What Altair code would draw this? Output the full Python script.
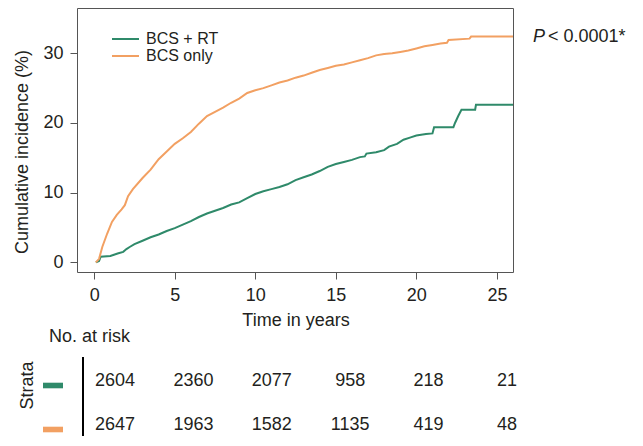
import altair as alt
import pandas as pd

# ---------------- data ----------------
series = ["BCS + RT", "BCS only"]
colors = ["#2f8a6a", "#f2a062"]

rt_time = [0.1, 0.3, 0.4, 1.0, 1.5, 1.8, 2.0, 2.2, 2.5, 3.0, 3.5, 4.0, 4.5, 5.0, 5.5,
           6.0, 6.5, 7.0, 7.5, 8.0, 8.5, 9.0, 9.5, 10.0, 10.5, 11.0, 11.5, 12.0, 12.5,
           13.0, 13.5, 14.0, 14.5, 15.0, 15.5, 16.0, 16.5, 16.8, 16.9, 17.5, 18.0, 18.3,
           18.8, 19.2, 19.6, 20.0, 20.6, 21.0, 21.1, 22.3, 22.4, 22.6, 22.8, 23.65, 23.7, 26.0]
rt_value = [0, 0.2, 0.8, 0.9, 1.3, 1.5, 1.9, 2.2, 2.6, 3.1, 3.6, 4.0, 4.5, 4.9, 5.4,
            5.9, 6.5, 7.0, 7.4, 7.8, 8.3, 8.6, 9.2, 9.8, 10.2, 10.5, 10.8, 11.2, 11.8,
            12.2, 12.6, 13.1, 13.7, 14.1, 14.4, 14.7, 15.1, 15.2, 15.6, 15.8, 16.1, 16.6,
            17.0, 17.6, 17.9, 18.2, 18.4, 18.5, 19.4, 19.4, 20.0, 21.0, 21.9, 21.9, 22.6, 22.6]

only_time = [0.1, 0.3, 0.5, 0.8, 1.1, 1.4, 1.7, 1.9, 2.1, 2.4, 3.0, 3.5, 4.0, 4.5, 5.0,
             5.5, 6.0, 6.5, 7.0, 7.5, 8.0, 8.5, 9.0, 9.5, 10.0, 10.5, 11.0, 11.5, 12.0,
             12.5, 13.0, 13.5, 14.0, 14.5, 15.0, 15.5, 16.0, 16.5, 17.0, 17.5, 18.0, 18.5,
             19.0, 19.5, 20.0, 20.5, 21.0, 21.5, 21.9, 22.0, 23.3, 23.4, 26.0]
only_value = [0, 0.5, 2.2, 4.1, 5.8, 6.8, 7.6, 8.2, 9.5, 10.5, 12.1, 13.3, 14.8, 15.9, 17.0,
              17.8, 18.7, 19.9, 21.0, 21.6, 22.2, 22.9, 23.5, 24.3, 24.7, 25.0, 25.4, 25.8, 26.1,
              26.5, 26.8, 27.2, 27.6, 27.9, 28.2, 28.4, 28.7, 29.0, 29.3, 29.7, 29.9, 30.0,
              30.2, 30.4, 30.7, 31.0, 31.2, 31.4, 31.5, 31.9, 32.1, 32.4, 32.4]

x_ticks = [0, 5, 10, 15, 20, 25]
y_ticks = [0, 10, 20, 30]

risk_times = [0, 5, 10, 15, 20, 25]
risk_rt = ["2604", "2360", "2077", "958", "218", "21"]
risk_only = ["2647", "1963", "1582", "1135", "419", "48"]

FONT = "Liberation Sans, Arial, Helvetica, sans-serif"
TXT = "#231f20"
GRAY = "#555555"

# ---------------- tables ----------------
curves = pd.concat([
    pd.DataFrame({"time": rt_time, "value": rt_value, "series": series[0]}),
    pd.DataFrame({"time": only_time, "value": only_value, "series": series[1]}),
])
curves["order"] = range(len(curves))

risk = pd.concat([
    pd.DataFrame({"time": risk_times, "row": 0, "n": risk_rt}),
    pd.DataFrame({"time": risk_times, "row": 1, "n": risk_only}),
])

one = pd.DataFrame({"a": [0]})

lines = alt.Chart(curves).mark_line(strokeWidth=2).encode(
    x=alt.X("time:Q",
            scale=alt.Scale(domain=[-1.07, 26], nice=False, zero=False),
            axis=alt.Axis(values=x_ticks, title=None, format="d")),
    y=alt.Y("value:Q",
            scale=alt.Scale(domain=[-1.39, 36.5], nice=False, zero=False),
            axis=alt.Axis(values=y_ticks, title=None, format="d")),
    color=alt.Color("series:N", scale=alt.Scale(domain=series, range=colors), legend=None),
    order="order:Q",
)

table = alt.Chart(risk).mark_text(font=FONT, fontSize=18, color=TXT,
                                  align="center", baseline="middle").encode(
    x=alt.X("time:Q", scale=alt.Scale(domain=[0, 25], range=[38, 430], nice=False, zero=False), axis=None),
    y=alt.Y("row:Q", scale=alt.Scale(domain=[0, 1], range=[373, 417], nice=False, zero=False), axis=None),
    text="n:N",
)

layers = [lines, table]

# legend (inside plot)
for i, (s, c) in enumerate(zip(series, colors)):
    yy = 31 + 17 * i
    layers.append(alt.Chart(one).mark_rule(color=c, strokeWidth=2).encode(
        x=alt.value(35), x2=alt.value(62), y=alt.value(yy)))
    layers.append(alt.Chart(one).mark_text(font=FONT, fontSize=16, color=TXT, align="left",
                                           baseline="middle", text=s).encode(
        x=alt.value(69), y=alt.value(yy)))

# risk table swatches
for i, c in enumerate(colors):
    y0 = 374.7 + 44 * i
    layers.append(alt.Chart(one).mark_rect(color=c).encode(
        x=alt.value(-34), x2=alt.value(-14), y=alt.value(y0), y2=alt.value(y0 + 5.6)))

# vertical separator in the risk table
layers.append(alt.Chart(one).mark_rule(color="#000000", strokeWidth=2).encode(
    x=alt.value(6), y=alt.value(349), y2=alt.value(440)))

def label(txt, x, y, angle=0, align="center", baseline="middle", size=18, style="normal"):
    kw = dict(font=FONT, fontSize=size, color=TXT, align=align, baseline=baseline,
              text=txt, fontStyle=style)
    if angle:
        kw["angle"] = angle
    return alt.Chart(one).mark_text(**kw).encode(x=alt.value(x), y=alt.value(y))

layers += [
    label("Cumulative incidence (%)", -54, 144, angle=270),
    label("Time in years", 219, 313),
    label("No. at risk", -28, 334, align="left", baseline="alphabetic"),
    label("Strata", -49.5, 377.5, angle=270),
    label("P", 456, 29, align="left", style="italic"),
    label("< 0.0001*", 471, 29, align="left"),
]

chart = alt.layer(*layers).resolve_scale(x="independent", y="independent").properties(
    width=436,
    height=264,
    autosize=alt.AutoSizeParams(type="none"),
    padding={"left": 69, "top": 0, "right": 120, "bottom": 164},
).configure_view(
    stroke=GRAY, strokeWidth=1
).configure_axis(
    domain=False, grid=False, ticks=True, tickColor=GRAY, tickSize=7, tickWidth=1,
    labelFont=FONT, labelFontSize=18, labelColor=TXT, labelPadding=7,
)

chart.save("out.html", embed_options={"renderer": "svg", "actions": False})
